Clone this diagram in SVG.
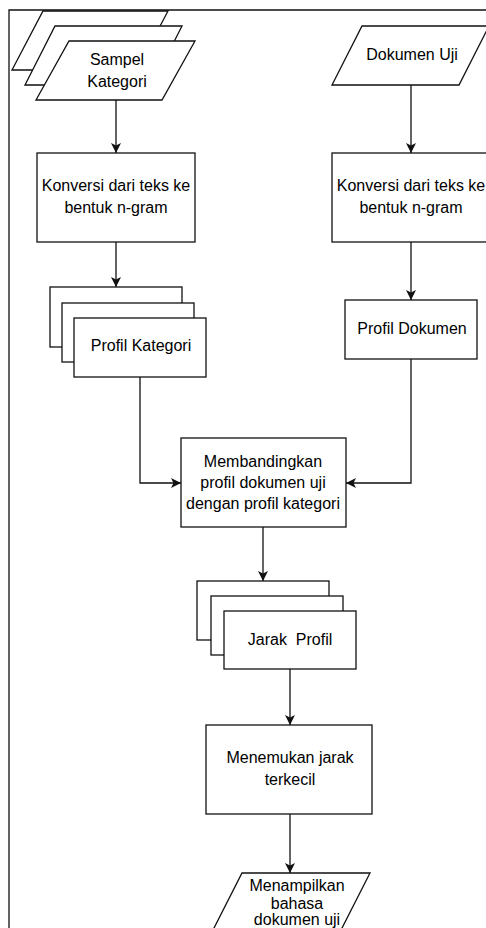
<svg xmlns="http://www.w3.org/2000/svg" width="486" height="928" viewBox="0 0 486 928">
<style>
.s{fill:#fff;stroke:#111;stroke-width:1.3}
.c{fill:none;stroke:#111;stroke-width:1.3}
.t{font-family:"Liberation Sans",Arial,sans-serif;font-size:16px;fill:#000;text-anchor:middle}
</style>
<defs>
<marker id="ah" viewBox="0 0 10 10" refX="10" refY="5" markerWidth="10" markerHeight="10" markerUnits="userSpaceOnUse" orient="auto">
<path d="M0,0 L10,5 L0,10 L2.5,5 z" fill="#111"/>
</marker>
</defs>
<rect width="486" height="928" fill="#fff"/>
<g id="frame"><path class="c" d="M9,928 V10 H486" stroke-width="1.6"/></g>
<g id="connectors">
<path class="c" d="M116,100 V153" marker-end="url(#ah)"/>
<path class="c" d="M116,242 V287" marker-end="url(#ah)"/>
<path class="c" d="M411,85 V153" marker-end="url(#ah)"/>
<path class="c" d="M411,242 V300" marker-end="url(#ah)"/>
<path class="c" d="M140,377 V483 H181" marker-end="url(#ah)"/>
<path class="c" d="M411,359 V483 H346" marker-end="url(#ah)"/>
<path class="c" d="M263,527 V581" marker-end="url(#ah)"/>
<path class="c" d="M290,669 V725" marker-end="url(#ah)"/>
<path class="c" d="M290,814 V873" marker-end="url(#ah)"/>
</g>
<g id="sampel-kategori">
<polygon class="s" points="43,11 168,11 137,70 12,70"/>
<polygon class="s" points="55,26 182,26 152,85 25,85"/>
<polygon class="s" points="69,41 195,41 162,100 36,100"/>
<text class="t" x="117" y="65">Sampel</text>
<text class="t" x="117" y="87">Kategori</text>
</g>
<g id="dokumen-uji">
<polygon class="s" points="362,26 489,26 459,85 332,85"/>
<text class="t" x="412" y="60">Dokumen Uji</text>
</g>
<g id="konversi-kiri">
<rect class="s" x="37" y="153" width="158" height="89"/>
<text class="t" x="116" y="191">Konversi dari teks ke</text>
<text class="t" x="116" y="213">bentuk n-gram</text>
</g>
<g id="konversi-kanan">
<rect class="s" x="332" y="153" width="158" height="89"/>
<text class="t" x="411" y="191">Konversi dari teks ke</text>
<text class="t" x="411" y="213">bentuk n-gram</text>
</g>
<g id="profil-kategori">
<rect class="s" x="50" y="287" width="132" height="60"/>
<rect class="s" x="62" y="303" width="132" height="59"/>
<rect class="s" x="74" y="318" width="132" height="59"/>
<text class="t" x="141" y="351">Profil Kategori</text>
</g>
<g id="profil-dokumen">
<rect class="s" x="345" y="300" width="132" height="59"/>
<text class="t" x="412" y="334">Profil Dokumen</text>
</g>
<g id="membandingkan">
<rect class="s" x="181" y="438" width="165" height="89"/>
<text class="t" x="263" y="467">Membandingkan</text>
<text class="t" x="263" y="488">profil dokumen uji</text>
<text class="t" x="263" y="509">dengan profil kategori</text>
</g>
<g id="jarak-profil">
<rect class="s" x="197" y="581" width="132" height="59"/>
<rect class="s" x="211" y="596" width="132" height="59"/>
<rect class="s" x="224" y="611" width="132" height="58"/>
<text class="t" x="290" y="645" xml:space="preserve">Jarak  Profil</text>
</g>
<g id="menemukan">
<rect class="s" x="206" y="725" width="166" height="89"/>
<text class="t" x="290" y="763">Menemukan jarak</text>
<text class="t" x="290" y="785">terkecil</text>
</g>
<g id="menampilkan">
<polygon class="s" points="242,873 370,873 340,932 212,932"/>
<text class="t" x="297" y="891">Menampilkan</text>
<text class="t" x="297" y="909">bahasa</text>
<text class="t" x="297" y="925">dokumen uji</text>
</g>
</svg>
